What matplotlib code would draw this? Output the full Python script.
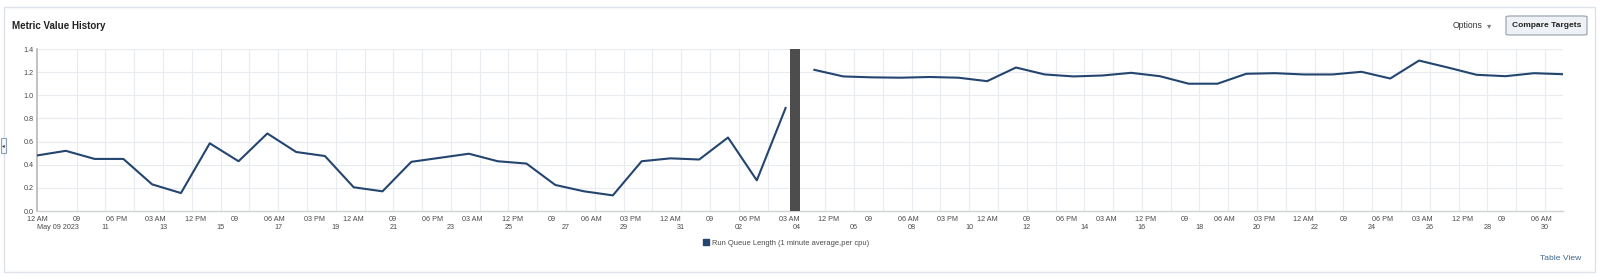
import matplotlib
matplotlib.use('Agg')
import matplotlib.pyplot as plt
from matplotlib.patches import Rectangle, FancyBboxPatch
from matplotlib.lines import Line2D
import pandas as pd

# daily samples, first block (May 09 - Jun 04)
dates_a = pd.date_range('2023-05-09', periods=27, freq='D')
values_a = [0.48, 0.52, 0.45, 0.45, 0.23, 0.155, 0.585, 0.43, 0.67, 0.51,
            0.475, 0.205, 0.17, 0.425, 0.46, 0.495, 0.43, 0.41, 0.225, 0.17,
            0.135, 0.43, 0.455, 0.445, 0.635, 0.265, 0.89]

# second block (Jun 05 - Jul 01)
dates_b = pd.date_range('2023-06-05', periods=27, freq='D')
values_b = [1.22, 1.163, 1.155, 1.152, 1.158, 1.152, 1.122, 1.24, 1.18, 1.163,
            1.171, 1.194, 1.165, 1.10, 1.10, 1.186, 1.191, 1.18, 1.18, 1.203,
            1.145, 1.30, 1.24, 1.177, 1.165, 1.191, 1.182]

# gap marker between the two blocks
gap_start = pd.Timestamp('2023-06-04 03:30')
gap_end = pd.Timestamp('2023-06-04 12:00')

x_start = pd.Timestamp('2023-05-09')
x_end = pd.Timestamp('2023-07-01')

# tick labels (every 33 hours)
tick_times = pd.date_range(x_start, '2023-06-30 06:00', freq='33h')
tick_labels = ["12 AM", "09", "06 PM", "03 AM", "12 PM", "09", "06 AM", "03 PM"] * 4 + \
              ["12 AM", "09", "06 PM", "03 AM", "12 PM", "09", "06 AM"]

# day labels on the second row
day_dates = list(pd.date_range('2023-05-09', '2023-06-30', freq='2D'))
day_labels = ["May 09 2023", "11", "13", "15", "17", "19", "21", "23", "25",
              "27", "29", "31", "02", "04", "06", "08", "10", "12", "14", "16",
              "18", "20", "22", "24", "26", "28", "30"]

y_ticks = [0.0, 0.2, 0.4, 0.6, 0.8, 1.0, 1.2, 1.4]

line_color = '#23456f'
grid_color = '#e8ecf1'
text_color = '#4a4a4a'
tick_font = 'Liberation Sans'

fig = plt.figure(figsize=(16, 2.77), dpi=100)
W, H = 1600, 277

# outer panel
fig.patches.append(Rectangle((4 / W, 1 - 272 / H), 1591 / W, 265 / H,
                             transform=fig.transFigure, fill=False,
                             edgecolor='#dde3e8', lw=1))

ax = fig.add_axes([37 / W, 1 - 211 / H, 1526 / W, 162 / H])

# vertical grid lines, one per day
for d in pd.date_range('2023-05-10 09:00', '2023-06-30 09:00', freq='D'):
    ax.axvline(d, color=grid_color, lw=0.8, zorder=0)
for v in y_ticks[1:]:
    ax.axhline(v, color=grid_color, lw=0.8, zorder=0)

ax.plot(dates_a, values_a, color=line_color, lw=1.5, zorder=3)
ax.plot(dates_b, values_b, color=line_color, lw=1.5, zorder=3)
ax.axvspan(gap_start, gap_end, color='#4d4d4d', lw=0, zorder=4)

ax.set_xlim(x_start, x_end)
ax.set_ylim(0, 1.4)
ax.set_yticks(y_ticks, labels=[f"{v:.1f}" for v in y_ticks])

ax.xaxis.remove_overlapping_locs = False
ax.set_xticks(list(tick_times), labels=tick_labels)
day_pos = [day_dates[0]] + [d + pd.Timedelta(hours=9) for d in day_dates[1:]]
ax.set_xticks(day_pos, labels=day_labels, minor=True)

ax.tick_params(axis='x', which='major', length=0, pad=3.6, labelsize=5.2,
               labelcolor=text_color)
ax.tick_params(axis='x', which='minor', length=0, pad=9.2, labelsize=5.2,
               labelcolor=text_color)
ax.tick_params(axis='y', length=0, pad=2.5, labelsize=5.2, labelcolor=text_color)
for lbl in ax.get_xticklabels() + ax.get_xticklabels(minor=True) + ax.get_yticklabels():
    lbl.set_family(tick_font)
ax.get_xticklabels(minor=True)[0].set_ha('left')

for s in ['top', 'right']:
    ax.spines[s].set_visible(False)
ax.spines['left'].set_color('#bcb4b4')
ax.spines['bottom'].set_color('#cfd3d6')
ax.spines['left'].set_linewidth(1.2)
ax.spines['bottom'].set_linewidth(1.0)
ax.patch.set_alpha(0)

# title and header controls
fig.text(12 / W, 1 - 26 / H, 'Metric Value History', fontsize=7,
         fontweight='bold', family='Liberation Sans', color='#222222', va='center')
fig.text(1453 / W, 1 - 25 / H, 'Options', fontsize=6.2, family='Liberation Sans',
         color='#333333', va='center')
fig.text(1487 / W, 1 - 25.5 / H, '\u25be', fontsize=6, family='DejaVu Sans',
         color='#7a7a7a', va='center')
fig.patches.append(FancyBboxPatch((1506 / W, 1 - 35 / H), 81 / W, 19 / H,
                                  boxstyle='round,pad=0,rounding_size=0.003',
                                  transform=fig.transFigure,
                                  facecolor='#eef1f5', edgecolor='#9fa8b3', lw=0.9))
fig.text(1546.5 / W, 1 - 25.5 / H, 'Compare Targets', fontsize=6, fontweight='bold',
         family='Liberation Sans', color='#222222', ha='center', va='center')

# legend
handle = Line2D([], [], marker='s', ls='', color=line_color, markersize=4.4)
fig.legend([handle], ['Run Queue Length (1 minute average,per cpu)'],
           loc='center', bbox_to_anchor=(786 / W, 1 - 243 / H), frameon=False,
           handlelength=0.8, handletextpad=0.3, borderpad=0,
           prop={'family': tick_font, 'size': 5.4}, labelcolor=text_color)

fig.text(1581 / W, 1 - 258 / H, 'Table View', fontsize=6.1, family='Liberation Sans',
         color='#3e6792', ha='right', va='center')

# collapse handle on the left edge
fig.patches.append(Rectangle((0.5 / W, 1 - 153 / H), 5 / W, 15 / H,
                             transform=fig.transFigure, facecolor='#f4f6f8',
                             edgecolor='#8ea0b5', lw=0.8))
fig.text(3 / W, 1 - 145.5 / H, '\u25c2', fontsize=4, family='DejaVu Sans',
         color='#333333', ha='center', va='center')

fig.savefig('out.png', dpi=100)
